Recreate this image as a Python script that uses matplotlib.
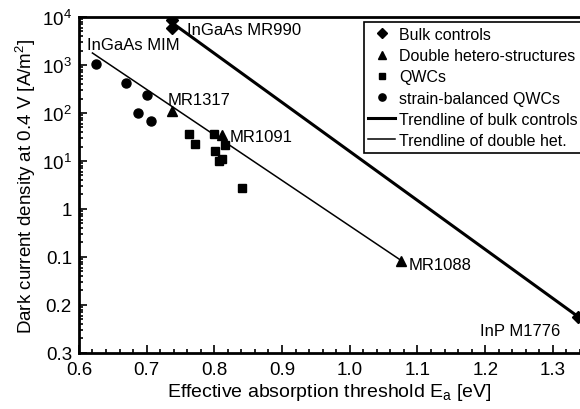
import matplotlib
matplotlib.use("Agg")
import matplotlib.pyplot as plt
from matplotlib.ticker import FixedLocator, FixedFormatter, LogLocator, MultipleLocator, NullFormatter

plt.rcParams['font.family'] = ['Liberation Sans', 'DejaVu Sans']

# values
bulk_x = [0.738, 0.738, 1.337]
bulk_y = [8700, 5900, 0.0057]
dh_x = [0.738, 0.812, 1.076]
dh_y = [109, 34, 0.084]
qwc_x = [0.762, 0.772, 0.799, 0.801, 0.807, 0.812, 0.816, 0.841]
qwc_y = [36, 23, 36, 15.8, 9.8, 10.8, 21, 2.7]
sb_x = [0.625, 0.669, 0.700, 0.688, 0.706]
sb_y = [1040, 417, 234, 99, 67]

trend_bulk_x = [0.741, 1.337]
trend_bulk_y = [7000, 0.0057]
trend_dh_x = [0.620, 1.076]
trend_dh_y = [1780, 0.084]

ytick_vals = [1e-3, 1e-2, 1e-1, 1, 1e1, 1e2, 1e3, 1e4]
ytick_labels = ['0.3', '0.2', '0.1', '1', r'$\mathregular{10^1}$', r'$\mathregular{10^2}$',
                r'$\mathregular{10^3}$', r'$\mathregular{10^4}$']

labels = [("InGaAs MR990", 0.760, 5600), ("InGaAs MIM", 0.612, 2700),
          ("MR1317", 0.731, 195), ("MR1091", 0.822, 33),
          ("MR1088", 1.087, 0.068), ("InP M1776", 1.193, 0.0029)]

fig = plt.figure(figsize=(5.8, 4.1), dpi=100)
ax = fig.add_axes([0.136, 0.137, 0.864, 0.819])

ax.plot(trend_bulk_x, trend_bulk_y, color='black', lw=2.2, label='Trendline of bulk controls', zorder=2)
ax.plot(trend_dh_x, trend_dh_y, color='black', lw=1.1, label='Trendline of double het.', zorder=2)
ax.plot(bulk_x, bulk_y, 'D', color='black', ms=6.5, ls='none', label='Bulk controls', zorder=3)
ax.plot(dh_x, dh_y, '^', color='black', ms=6.5, ls='none', label='Double hetero-structures', zorder=3)
ax.plot(qwc_x, qwc_y, 's', color='black', ms=6, ls='none', label='QWCs', zorder=3)
ax.plot(sb_x, sb_y, 'o', color='black', ms=6.5, ls='none', label='strain-balanced QWCs', zorder=3)

for txt, x, y in labels:
    ax.text(x, y, txt, fontsize=12, va='center', ha='left')

ax.set_yscale('log')
ax.set_xlim(0.6, 1.34)
ax.set_ylim(1e-3, 1e4)
ax.yaxis.set_major_locator(FixedLocator(ytick_vals))
ax.yaxis.set_major_formatter(FixedFormatter(ytick_labels))
ax.yaxis.set_minor_locator(LogLocator(base=10, subs=range(2, 10), numticks=20))
ax.yaxis.set_minor_formatter(NullFormatter())
ax.xaxis.set_major_locator(MultipleLocator(0.1))
ax.xaxis.set_minor_locator(MultipleLocator(0.02))
ax.xaxis.set_major_formatter(plt.FuncFormatter(lambda v, p: f"{v:.1f}"))

ax.tick_params(which='both', direction='in', width=1.2)
ax.tick_params(which='major', length=6, labelsize=13.5)
ax.tick_params(which='minor', length=3)
ax.tick_params(axis='x', pad=6, top=False)
ax.tick_params(axis='y', right=False, pad=5)
for s in ['left', 'bottom', 'top']:
    ax.spines[s].set_linewidth(2)
ax.spines['right'].set_visible(False)

ax.set_xlabel(r'Effective absorption threshold E$\mathregular{_a}$ [eV]', fontsize=14, labelpad=2)
ax.set_ylabel(r'Dark current density at 0.4 V [A/m$\mathregular{^2}$]', fontsize=13.5, labelpad=3)

handles, labs = ax.get_legend_handles_labels()
order = [2, 3, 4, 5, 0, 1]
leg = ax.legend([handles[i] for i in order], [labs[i] for i in order],
                loc='upper left', bbox_to_anchor=(0.568, 0.985), fontsize=11.5,
                frameon=True, fancybox=False, edgecolor='black', framealpha=1,
                handlelength=1.7, handletextpad=0.25, labelspacing=0.39,
                borderpad=0.3, borderaxespad=0, markerscale=0.8)
leg.get_frame().set_linewidth(1.2)

fig.savefig('out.png', dpi=100)
